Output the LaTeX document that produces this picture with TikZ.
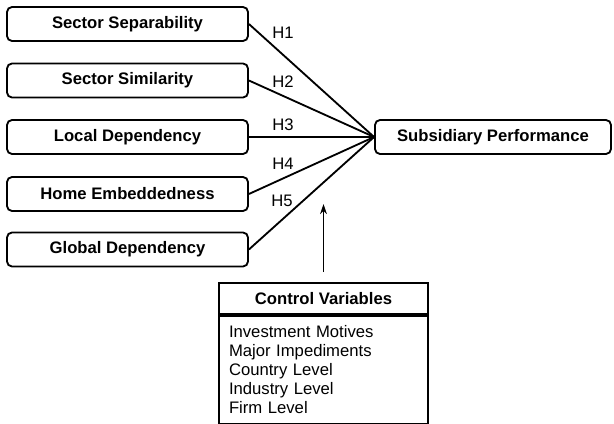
\documentclass[tikz,border=0pt]{standalone}
\usepackage{fontspec}
\setmainfont{Liberation Sans}
\usetikzlibrary{arrows.meta}
\begin{document}
\begin{tikzpicture}[x=0.6pt,y=-0.6pt,font=\fontsize{10}{12}\selectfont,
  var/.style={draw, rounded corners=3pt, line width=1.1pt, minimum width=144.6pt, minimum height=20.4pt, font=\bfseries},
  link/.style={line width=1.1pt},
  hyp/.style={inner sep=0pt}]
\useasboundingbox (0,0) rectangle (614,424);
\node[var] (sep) at (127.5,24) {Sector Separability};
\node[var] (sim) at (127.5,80.5) {Sector Similarity};
\node[var] (loc) at (127.5,137) {Local Dependency};
\node[var] (home) at (127.5,194) {Home Embeddedness};
\node[var] (glob) at (127.5,249.5) {Global Dependency};
\node[var, minimum width=141.6pt] (perf) at (493,137) {Subsidiary Performance};
\foreach \v in {sep,sim,loc,home,glob}
  \draw[link] (\v.east) -- (perf.west);
\node[hyp] (h1) at (283,33) {H1};
\node[hyp] (h2) at (283,82) {H2};
\node[hyp] (h3) at (283,125) {H3};
\node[hyp] (h4) at (283,164) {H4};
\node[hyp] (h5) at (282,201) {H5};
\node[draw, line width=1.1pt, minimum width=125.4pt, minimum height=18.6pt, font=\bfseries] (ctrlhead) at (323.5,298.5) {Control Variables};
\node[draw, line width=1.1pt, minimum height=64.8pt, text width=113.4pt, inner xsep=6pt, align=left, anchor=north,
  font=\fontsize{10}{11.4}\selectfont] (ctrlbody) at (ctrlhead.south)
  {Investment Motives\\Major Impediments\\Country Level\\Industry Level\\Firm Level};
\coordinate (ctrltip) at (323.5,204);
\draw[link, shorten <=6pt, -{Stealth[length=6pt,width=4pt]}] (ctrlhead.north) -- (ctrltip);
\end{tikzpicture}
\end{document}
